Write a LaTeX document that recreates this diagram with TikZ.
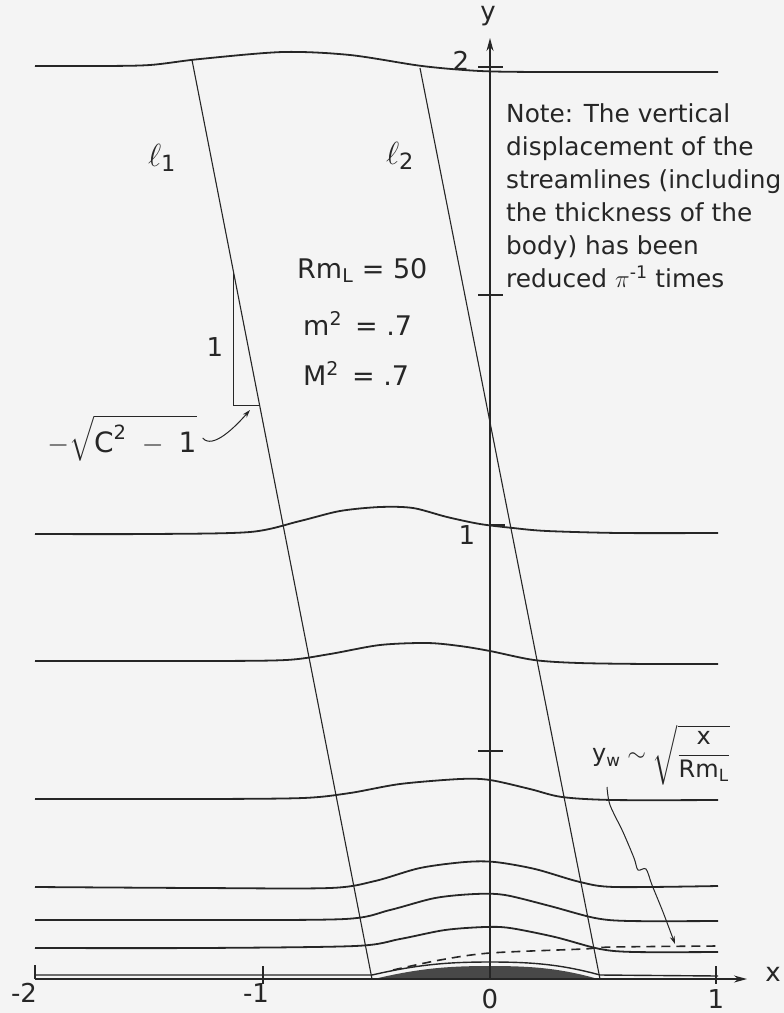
\RequirePackage{fix-cm}
\documentclass[tikz,border=0pt]{standalone}
\usepackage{amsmath}
\usepackage{fontspec}
\setmainfont{DejaVu Sans}
\usetikzlibrary{arrows.meta,positioning,calc}
\definecolor{tinta}{RGB}{38,38,38}
\definecolor{papel}{RGB}{244,244,244}
\definecolor{cuerpo}{RGB}{72,72,72}
\tikzset{
  corriente/.style={draw=tinta, line width=1.8pt},
  recta/.style={draw=tinta, line width=1.1pt},
  eje/.style={draw=tinta, line width=1.5pt, -{Stealth[length=13pt,width=7pt]}},
  marca/.style={draw=tinta, line width=1.4pt},
  estela/.style={draw=tinta, line width=1.6pt, dash pattern=on 9pt off 6pt},
  fl/.style={-{Stealth[length=8pt,width=5pt]}, line width=1pt, tinta},
  et/.style={text=tinta, inner sep=0pt, font=\fontsize{26}{30}\selectfont},
  dato/.style={text=tinta, inner sep=0pt, font=\fontsize{27}{30}\selectfont},
  nota/.style={text=tinta, inner sep=0pt, align=left, font=\fontsize{24.8}{33}\selectfont},
}

\begin{document}
\begin{tikzpicture}[x=1pt, y=-1pt]
  \fill[papel] (0,0) rectangle (784,1013);
  \useasboundingbox (0,0) rectangle (784,1013);
  % streamlines
  \draw[corriente] plot[smooth] coordinates {(35,66) (100,66) (150,65) (200,59) (283,52) (350,55) (422,66) (480,71) (540,72) (620,72) (718,72)};
  \draw[corriente] plot[smooth] coordinates {(35,534) (150,534) (250,532) (300,521) (340,511) (380,507) (413,508) (447,517) (480,524) (513,528) (547,531) (620,533) (718,533)};
  \draw[corriente] plot[smooth] coordinates {(35,661) (200,661) (286,660) (330,654) (380,645) (427,643) (460,646) (490,651) (534,660) (579,663) (650,664) (718,664)};
  \draw[corriente] plot[smooth] coordinates {(35,799) (200,799) (303,798) (350,793) (400,784) (460,779) (490,780) (530,789) (562,797) (613,800) (718,800)};
  \draw[corriente] plot[smooth] coordinates {(35,887) (200,888) (330,888) (375,881) (420,868) (465,862) (495,862) (535,869) (580,882) (615,887) (718,886)};
  \draw[corriente] plot[smooth] coordinates {(35,920) (200,920) (345,919) (390,910) (435,898) (475,894) (505,895) (550,906) (595,918) (630,921) (718,921)};
  \draw[corriente] plot[smooth] coordinates {(35,948) (200,948) (355,946) (400,939) (445,930) (485,927) (510,928) (555,937) (600,949) (635,952) (718,952)};
  % body and wake
  \fill[cuerpo] (374,979) .. controls (420,968) and (450,966) .. (490,966) .. controls (530,966) and (560,968) .. (598,979) -- cycle;
  \draw[corriente, line width=1.4pt] (35,975) -- (372,975) .. controls (420,964) and (450,962) .. (490,962) .. controls (530,962) and (560,964) .. (600,975) -- (718,976);
  \draw[estela] plot[smooth] coordinates {(393,970) (440,960) (490,953) (583,949) (613,947) (718,946)};
  % axes
  \draw[eje] (35,979) -- (747,979);
  \draw[eje] (490,979) -- (490,38);
  \foreach \yy in {67,295,751} \draw[marca] (478,\yy) -- (503,\yy);
  \draw[marca] (490,525) -- (505,525);
  \draw[marca] (35,979) -- (35,965);
  \foreach \xx in {263,716} \draw[marca] (\xx,966) -- (\xx,984);
  \node[et] (ye) at (488,16) {y};
  \node[et] (xe) at (773,974) {x};
  \node[et] (y2) at (461,61) {2};
  \node[et] (y1) at (467,535) {1};
  \node[et] (xm2) at (24,993) {-2};
  \node[et] (xm1) at (256,993) {-1};
  \node[et] (x0) at (490,999) {0};
  \node[et] (x1) at (716,999) {1};
  % characteristic lines
  \coordinate (l1a) at (192,60);
  \coordinate (l1b) at (372,979);
  \coordinate (l2a) at (420,68);
  \coordinate (l2b) at (600,979);
  \draw[recta] (l1a) -- (l1b);
  \draw[recta] (l2a) -- (l2b);
  \node[et, font=\fontsize{32}{34}\selectfont] (ell1) at (162,158) {$\ell_{\text{1}}$};
  \node[et, font=\fontsize{32}{34}\selectfont] (ell2) at (400,156) {$\ell_{\text{2}}$};
  \coordinate (tA) at ($(l1a)!0.231!(l1b)$);
  \coordinate (tC) at ($(l1a)!0.3754!(l1b)$);
  \draw[recta, line width=0.9pt] (tA) -- (tA |- tC) -- (tC);
  \node[et] (uno) at (215,347) {1};
  \node[et, font=\fontsize{28}{30}\selectfont] (raiz) at (122,438) {$-\sqrt{\text{C}^{\text{2}}\ -\ \text{1}}$};
  \coordinate (punta) at (250,410);
  \draw[fl] ([xshift=6pt]raiz.east) .. controls +(10,12) and +(-14,16) .. (punta);
  % parameters
  \node[dato, anchor=base west] (rm) at (297,278) {Rm\textsubscript{L} = 50};
  \node[dato, anchor=base west] (m2) at (303,335) {m\textsuperscript{2}\, = .7};
  \node[dato, anchor=base west] (mm2) at (303,385) {M\textsuperscript{2}\, = .7};
  \node[nota, anchor=north west] (nt) at (506,103) {Note: The vertical\\ displacement of the\\ streamlines (including\\ the thickness of the\\ body) has been\\ reduced $\pi^{\text{-1}}$ times};
  % wake width
  \node[et, font=\fontsize{24}{28}\selectfont] (yw) at (661,755) {$\text{y}_{\text{w}} \sim \sqrt{\dfrac{\text{x}}{\text{Rm}_{\text{L}}}}$};
  \coordinate (ywpie) at (607,787);
  \coordinate (ywfin) at (675,944);
  \draw[fl] plot[smooth] coordinates {(ywpie) (610,805) (623,832) (634,858) (638,870) (646,869) (652,885) (663,912) (ywfin)};
\end{tikzpicture}
\end{document}
